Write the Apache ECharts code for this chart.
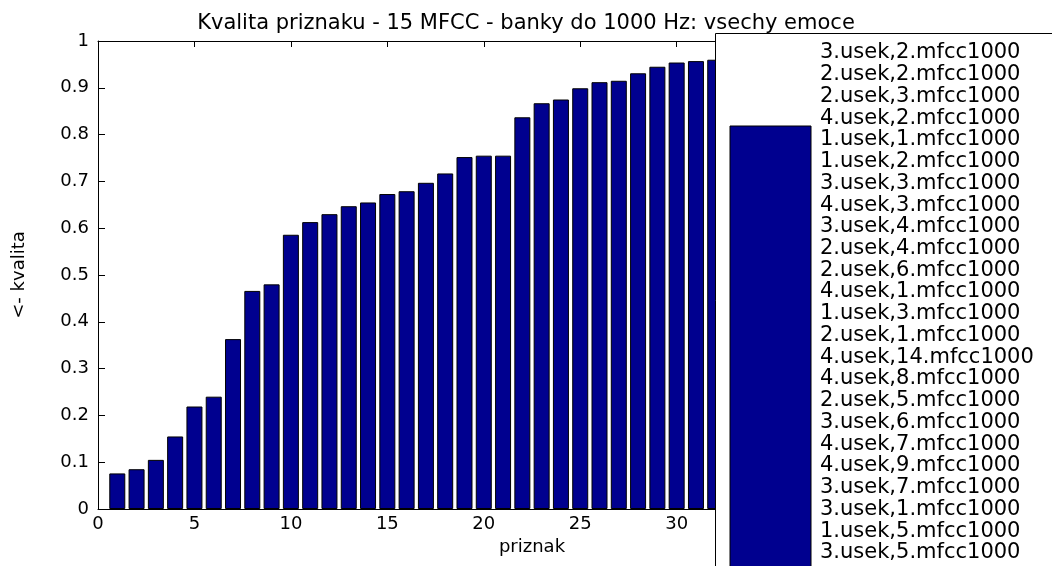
<!DOCTYPE html>
<html>
<head>
<meta charset="utf-8">
<title>Kvalita priznaku</title>
<script src="https://cdn.jsdelivr.net/npm/echarts@6/dist/echarts.min.js"></script>
<style type="text/css">
  html, body { margin: 0; padding: 0; background: #fff; }
  .chart { width: 1052px; height: 566px; }
</style>
</head>
<body>
<div id="chart" class="chart"></div>
<script>
// kvalita of each feature, sorted (only the bars not hidden by the legend)
var kvalita = [
  0.076, 0.085, 0.105, 0.155, 0.219, 0.240, 0.363, 0.466, 0.480, 0.586,
  0.613, 0.630, 0.647, 0.655, 0.673, 0.679, 0.697, 0.717, 0.752, 0.755,
  0.755, 0.837, 0.867, 0.875, 0.899, 0.912, 0.915, 0.931, 0.945, 0.954,
  0.957, 0.960
]
var legendNames = [
  '3.usek,2.mfcc1000', '2.usek,2.mfcc1000', '2.usek,3.mfcc1000', '4.usek,2.mfcc1000',
  '1.usek,1.mfcc1000', '1.usek,2.mfcc1000', '3.usek,3.mfcc1000', '4.usek,3.mfcc1000',
  '3.usek,4.mfcc1000', '2.usek,4.mfcc1000', '2.usek,6.mfcc1000', '4.usek,1.mfcc1000',
  '1.usek,3.mfcc1000', '2.usek,1.mfcc1000', '4.usek,14.mfcc1000', '4.usek,8.mfcc1000',
  '2.usek,5.mfcc1000', '3.usek,6.mfcc1000', '4.usek,7.mfcc1000', '4.usek,9.mfcc1000',
  '3.usek,7.mfcc1000', '3.usek,1.mfcc1000', '1.usek,5.mfcc1000', '3.usek,5.mfcc1000'
]
var xMin = 0, xMax = 45, xStep = 5
var yMin = 0, yMax = 1, yStep = 0.1

var font = 'DejaVu Sans'
var barColor = '#00008f'

var barData = kvalita.map(function (v, i) { return [i + 1, v] })

var axisLine = { show: true, onZero: false, lineStyle: { color: '#000', width: 1 } }

var chart = echarts.init(document.getElementById('chart'))
chart.setOption({
  animation: false,
  backgroundColor: '#fff',
  title: {
    text: 'Kvalita priznaku - 15 MFCC - banky do 1000 Hz: vsechy emoce',
    left: 'center',
    top: 8,
    textStyle: { fontFamily: font, fontSize: 21, fontWeight: 'normal', color: '#000' }
  },
  grid: { left: 98, right: 86, top: 41, bottom: 57 },
  xAxis: [{
    type: 'value',
    min: xMin, max: xMax, interval: xStep,
    name: 'priznak',
    nameLocation: 'middle',
    nameGap: 27,
    nameTextStyle: { fontFamily: font, fontSize: 18, color: '#000' },
    axisLine: axisLine,
    axisTick: { show: true, inside: true, length: 6, lineStyle: { color: '#000' } },
    axisLabel: { fontFamily: font, fontSize: 18, color: '#000', margin: 6 },
    splitLine: { show: false }
  }, {
    type: 'value',
    position: 'top',
    min: xMin, max: xMax, interval: xStep,
    axisLine: axisLine,
    axisTick: { show: true, inside: true, length: 6, lineStyle: { color: '#000' } },
    axisLabel: { show: false },
    splitLine: { show: false }
  }],
  yAxis: {
    type: 'value',
    min: yMin, max: yMax, interval: yStep,
    name: '<- kvalita',
    nameLocation: 'middle',
    nameRotate: 90,
    nameGap: 70,
    nameTextStyle: { fontFamily: font, fontSize: 18, color: '#000' },
    axisLine: axisLine,
    axisTick: { show: true, inside: true, length: 7, lineStyle: { color: '#000' } },
    axisLabel: { fontFamily: font, fontSize: 18, color: '#000', margin: 9 },
    splitLine: { show: false }
  },
  series: [{
    type: 'bar',
    data: barData,
    barWidth: 16,
    itemStyle: { color: barColor, borderColor: '#000', borderWidth: 1 }
  }],
  graphic: [{
    type: 'rect',
    z: 100,
    shape: { x: 715.5, y: 33.5, width: 400, height: 600 },
    style: { fill: '#fff', stroke: '#000', lineWidth: 1 }
  }, {
    type: 'rect',
    z: 101,
    shape: { x: 730, y: 126, width: 81, height: 500 },
    style: { fill: barColor, stroke: '#000', lineWidth: 1 }
  }, {
    type: 'text',
    z: 101,
    x: 820,
    y: 42,
    style: {
      text: legendNames.join('\n'),
      font: '21px "DejaVu Sans"',
      fill: '#000',
      lineHeight: 21.74,
      verticalAlign: 'top',
      align: 'left'
    }
  }]
})
</script>
</body>
</html>
